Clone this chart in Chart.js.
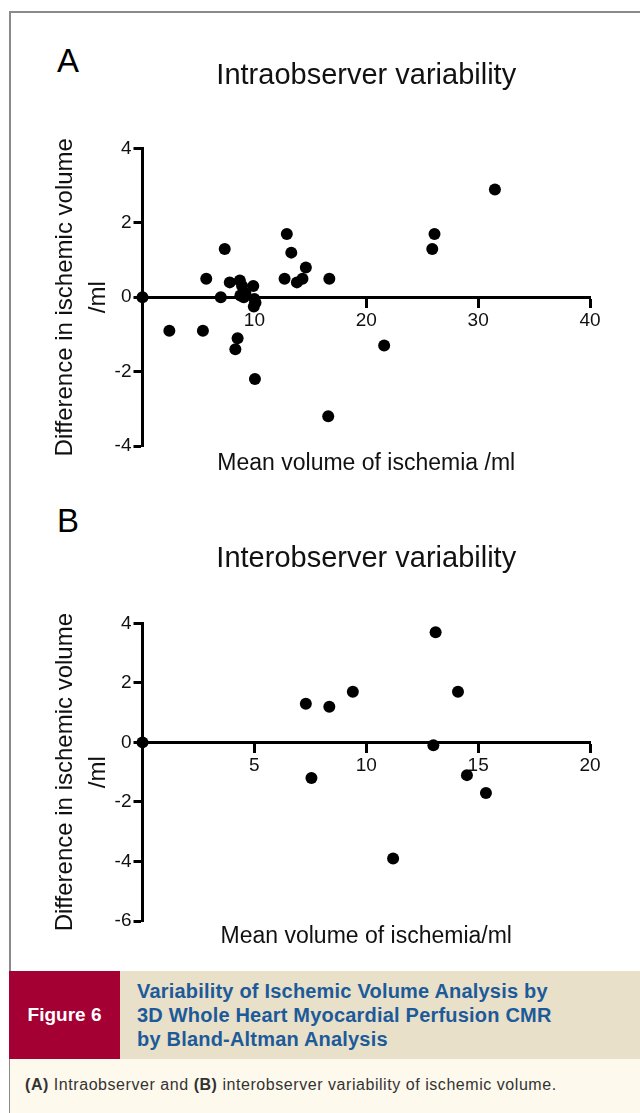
<!DOCTYPE html>
<html>
<head>
<meta charset="utf-8">
<script src="https://cdn.jsdelivr.net/npm/chart.js@4.4.1/dist/chart.umd.min.js"></script>
<style>
  body { margin: 0; width: 640px; height: 1113px; background: #fff; position: relative; overflow: hidden; font-family: "Liberation Sans", Arial, sans-serif; }
  .frame { position: absolute; left: 9px; top: 11px; width: 640px; height: 1110px; border-top: 2px solid #8a8a8a; border-left: 2px solid #8a8a8a; }
  canvas { position: absolute; left: 0; }
  .letter { position: absolute; left: 57px; font-size: 33px; line-height: 33px; color: #000; }
  .band { position: absolute; left: 9px; top: 971px; width: 631px; height: 88px; background: #e8e0c9; }
  .red { position: absolute; left: 0; top: 0; width: 111px; height: 88px; background: #a50034; color: #fff; font-weight: bold; font-size: 19px; display: flex; align-items: center; justify-content: center; }
  .head { position: absolute; left: 128px; top: 8px; color: #1c5a9a; font-weight: bold; font-size: 20px; line-height: 24px; letter-spacing: 0.2px; }
  .cream { position: absolute; left: 9px; top: 1059px; width: 631px; height: 54px; background: #fdf9ec; border-left: 1px solid #8a8a8a; }
  .note { position: absolute; left: 15px; top: 17px; font-size: 16px; letter-spacing: 0.55px; color: #333; white-space: nowrap; }
</style>
</head>
<body>
<div class="frame"></div>
<div class="letter" style="top:44px">A</div>
<div class="letter" style="top:504px">B</div>
<canvas id="chartA" width="640" height="490" style="top:0"></canvas>
<canvas id="chartB" width="640" height="480" style="top:490px"></canvas>
<div class="band">
  <div class="red">Figure 6</div>
  <div class="head">Variability of Ischemic Volume Analysis by<br>3D Whole Heart Myocardial Perfusion CMR<br>by Bland-Altman Analysis</div>
</div>
<div class="cream"><div class="note"><b>(A)</b> Intraobserver and <b>(B)</b> interobserver variability of ischemic volume.</div></div>
<script>
const intraMean = [0, 2.4, 5.4, 5.7, 7.0, 7.35, 7.8, 8.7, 8.9, 8.75, 9.2, 9.05, 9.9, 10.0, 10.1, 9.95, 8.5, 8.3, 10.05, 12.9, 13.3, 12.7, 13.8, 14.3, 14.6, 16.7, 16.6, 21.6, 25.9, 26.1, 31.5];
const intraDiff = [0, -0.9, -0.9, 0.5, 0, 1.3, 0.4, 0.45, 0.3, 0.05, 0.1, 0, 0.3, -0.05, -0.15, -0.25, -1.1, -1.4, -2.2, 1.7, 1.2, 0.5, 0.4, 0.5, 0.8, 0.5, -3.2, -1.3, 1.3, 1.7, 2.9];
const interMean = [0, 7.3, 8.35, 9.4, 7.55, 13.1, 13.0, 14.1, 14.5, 15.35, 11.2];
const interDiff = [0, 1.3, 1.2, 1.7, -1.2, 3.7, -0.1, 1.7, -1.1, -1.7, -3.9];

// [min, max, step]
const intraXTicks = [0, 40, 10];
const intraYTicks = [-4, 4, 2];
const interXTicks = [0, 20, 5];
const interYTicks = [-6, 4, 2];

Chart.defaults.font.family = '"Liberation Sans", Arial, sans-serif';
Chart.defaults.color = '#000';

function makeChart(id, xs, ys, xTicks, yTicks, title, xTitle, box) {
  const points = xs.map((x, i) => ({x: x, y: ys[i]}));
  return new Chart(document.getElementById(id), {
    type: 'scatter',
    data: {
      datasets: [{
        data: points,
        backgroundColor: '#000',
        borderWidth: 0,
        pointRadius: 6,
        pointHoverRadius: 6,
        clip: false
      }]
    },
    options: {
      responsive: false,
      animation: false,
      events: [],
      layout: { padding: { left: 0, right: 50, top: 0, bottom: box.padBottom } },
      plugins: {
        legend: { display: false },
        tooltip: { enabled: false },
        title: {
          display: true, text: title, fullSize: false, color: '#111',
          font: { size: 29, weight: 'normal' },
          padding: { top: box.titleTop, bottom: box.titleBottom }
        },
        subtitle: {
          display: true, text: xTitle, position: 'bottom', fullSize: false, color: '#111',
          font: { size: 23 },
          padding: { top: box.subTop, bottom: 0 }
        }
      },
      scales: {
        x: {
          type: 'linear',
          position: { y: 0 },
          min: xTicks[0], max: xTicks[1],
          border: { color: '#000', width: 3 },
          grid: { drawOnChartArea: false, drawTicks: true, tickLength: 9, tickWidth: 3, tickColor: '#000' },
          ticks: {
            stepSize: xTicks[2], padding: 3,
            font: { size: 19 }, color: '#111',
            callback: v => v === 0 ? '' : v
          }
        },
        y: {
          min: yTicks[0], max: yTicks[1],
          border: { color: '#000', width: 3 },
          grid: { drawOnChartArea: false, drawTicks: true, tickLength: 9, tickWidth: 3, tickColor: '#000' },
          ticks: { stepSize: yTicks[2], padding: 2, font: { size: 19 }, color: '#111' },
          title: {
            display: true, color: '#111',
            text: ['Difference in ischemic volume', '/ml'],
            font: { size: 24, lineHeight: 1.375 },
            padding: { top: 49, bottom: 0 }
          },
          afterFit: scale => { scale.width = 142.5; }
        }
      }
    }
  });
}

makeChart('chartA', intraMean, intraDiff, intraXTicks, intraYTicks,
  'Intraobserver variability', 'Mean volume of ischemia /ml',
  { titleTop: 58.6, titleBottom: 55.1, subTop: 3.6, padBottom: 12.8 });

makeChart('chartB', interMean, interDiff, interXTicks, interYTicks,
  'Interobserver variability', 'Mean volume of ischemia/ml',
  { titleTop: 51.6, titleBottom: 46.9, subTop: 1.7, padBottom: 19.7 });
</script>
</body>
</html>
